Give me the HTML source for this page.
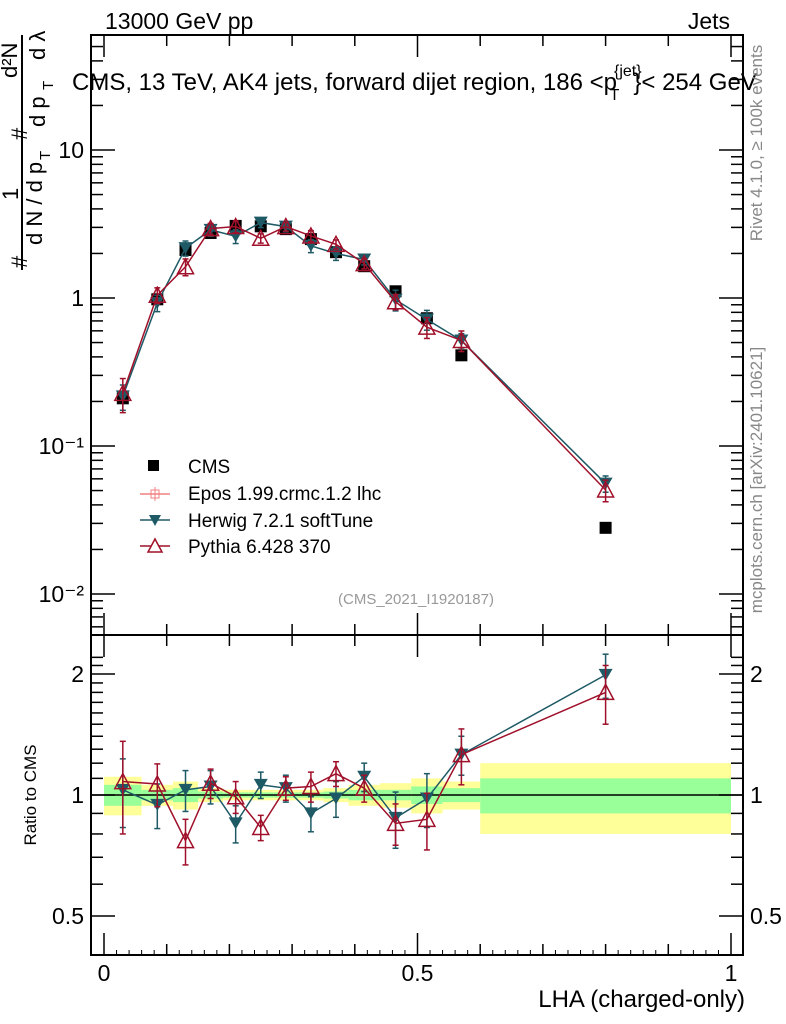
<!DOCTYPE html>
<html><head><meta charset="utf-8"><style>
html,body{margin:0;padding:0;background:#fff;}
svg{display:block;font-family:"Liberation Sans",sans-serif;}
</style></head><body>
<svg id="chart" width="786" height="1024" viewBox="0 0 786 1024" xmlns="http://www.w3.org/2000/svg">
<g id="bands"></g>
<g id="marks"></g>
<g id="axes"></g>
<rect x="91" y="35" width="652" height="600" fill="none" stroke="#000" stroke-width="2"/>
<rect x="91" y="635" width="652" height="320" fill="none" stroke="#000" stroke-width="2"/>
<text x="105" y="29" font-size="23">13000 GeV pp</text>
<text x="730" y="29" font-size="23" text-anchor="end">Jets</text>
<text x="72" y="90" font-size="24">CMS, 13 TeV, AK4 jets, forward dijet region, 186 &lt;p<tspan font-size="16" dy="-14" dx="-3">{jet}</tspan><tspan font-size="16" dy="24" dx="-32">T</tspan><tspan dy="-10" dx="14">}&lt; 254 GeV</tspan></text>
<g transform="translate(0,270) rotate(-90)" font-size="22">
<text x="2" y="27">#</text>
<text x="70" y="18">1</text>
<line x1="0" y1="22" x2="235" y2="22" stroke="#000" stroke-width="2"/>
<text x="25" y="42">d N / d p</text><text x="110" y="50" font-size="15">T</text>
<text x="130" y="27">#</text>
<text x="192" y="17">d²N</text>
<text x="143" y="45">d p</text><text x="180" y="53" font-size="15">T</text><text x="210" y="45">d λ</text>
</g>
<text transform="translate(36,795) rotate(-90)" font-size="17" text-anchor="middle">Ratio to CMS</text>
<text transform="translate(762,143) rotate(-90)" font-size="17" fill="#888" text-anchor="middle">Rivet 4.1.0, ≥ 100k events</text>
<text transform="translate(762,480) rotate(-90)" font-size="17" fill="#888" text-anchor="middle">mcplots.cern.ch [arXiv:2401.10621]</text>
<text x="416" y="604" font-size="15" fill="#999" text-anchor="middle">(CMS_2021_I1920187)</text>
<text x="745" y="1007" font-size="24" text-anchor="end">LHA (charged-only)</text>
<g id="legend" font-size="19">
<rect x="148" y="460" width="11" height="11" fill="#000"/>
<text x="188" y="473">CMS</text>
<line x1="140" y1="494" x2="170" y2="494" stroke="#f08080" stroke-width="1.5"/><line x1="155" y1="487" x2="155" y2="501" stroke="#f08080"/><rect x="151" y="490" width="8" height="8" fill="none" stroke="#f08080"/>
<text x="188" y="500">Epos 1.99.crmc.1.2 lhc</text>
<line x1="140" y1="520" x2="170" y2="520" stroke="#1e5a66" stroke-width="1.5"/><path d="M149,515 L161,515 L155,526 Z" fill="#1e5a66"/>
<text x="188" y="527">Herwig 7.2.1 softTune</text>
<line x1="140" y1="546" x2="170" y2="546" stroke="#a0102a" stroke-width="1.5"/><path d="M148,552 L162,552 L155,539 Z" fill="#fff" stroke="#a0102a" stroke-width="1.5"/>
<text x="188" y="553">Pythia 6.428 370</text>
</g>
</svg>
<script>
const lhaCenters=[0.03,0.085,0.13,0.17,0.21,0.25,0.29,0.33,0.37,0.415,0.465,0.515,0.57,0.8];
const binEdges=[0,0.06,0.11,0.15,0.19,0.23,0.27,0.31,0.35,0.39,0.44,0.49,0.54,0.60,1.0];
const cmsValues=[0.21,0.98,2.11,2.75,3.07,3.05,2.92,2.5,2.04,1.64,1.11,0.73,0.41,0.028];
const totalUnc=[0.11,0.06,0.08,0.04,0.03,0.03,0.03,0.03,0.04,0.06,0.07,0.1,0.08,0.2];
const statUnc=[0.06,0.03,0.04,0.02,0.015,0.015,0.015,0.015,0.02,0.03,0.03,0.05,0.04,0.1];
const herwigRatio=[1.03,0.945,1.03,1.05,0.85,1.06,1.04,0.90,0.98,1.11,0.877,0.98,1.26,1.99];
const herwigErr=[0.2,0.12,0.12,0.1,0.09,0.08,0.08,0.09,0.1,0.09,0.14,0.15,0.14,0.25];
const pythiaRatio=[1.08,1.065,0.77,1.07,0.99,0.83,1.04,1.05,1.13,1.04,0.85,0.87,1.26,1.80];
const pythiaErr=[0.28,0.13,0.1,0.09,0.09,0.06,0.07,0.09,0.08,0.08,0.1,0.14,0.2,0.3];
const yTicksMain=[0.01,0.1,1,10];
const yTickLabels=["10\u207B\u00B2","10\u207B\u00B9","1","10"];
const rTicks=[0.5,1,2];
const rTickLabels=["0.5","1","2"];
const xTicks=[0,0.5,1];
const xTickLabels=["0","0.5","1"];

const NS="http://www.w3.org/2000/svg";
const X=v=>104+627*v;
const Y=v=>298-148*Math.log10(v);
const R=v=>795-402*Math.log10(v);
function mk(p,tag,at){const e=document.createElementNS(NS,tag);for(const k in at)e.setAttribute(k,at[k]);p.appendChild(e);return e;}
const bands=document.getElementById('bands'),marks=document.getElementById('marks'),axes=document.getElementById('axes');

for(let i=0;i<cmsValues.length;i++){
  const x0=X(binEdges[i]),x1=X(binEdges[i+1]);
  let r=mk(bands,'rect',{x:x0,y:R(1+totalUnc[i]),width:x1-x0,height:R(1-totalUnc[i])-R(1+totalUnc[i]),fill:'#ffff99'});
  
  
  let g=mk(bands,'rect',{x:x0,y:R(1+statUnc[i]),width:x1-x0,height:R(1-statUnc[i])-R(1+statUnc[i]),fill:'#99ff99'});
  
  
}
let ref=mk(bands,'line',{x1:91,x2:743,y1:R(1),y2:R(1),stroke:'#000','stroke-width':1.5});



function series(ratios,errs,color,kind,name){
  const mainPts=ratios.map((r,i)=>[X(lhaCenters[i]),Y(cmsValues[i]*r)]);
  const ratPts=ratios.map((r,i)=>[X(lhaCenters[i]),R(r)]);
  [[mainPts,true],[ratPts,false]].forEach(([pts,isMain])=>{
    const pl=mk(marks,'polyline',{points:pts.map(p=>p.join(',')).join(' '),fill:'none',stroke:color,'stroke-width':1.5});
    
    
    ratios.forEach((r,i)=>{
      const x=pts[i][0];
      const yt=isMain?Y(cmsValues[i]*(r+errs[i])):R(r+errs[i]);
      const yb=isMain?Y(cmsValues[i]*Math.max(r-errs[i],0.05)):R(Math.max(r-errs[i],0.05));
      mk(marks,'line',{x1:x,x2:x,y1:yt,y2:yb,stroke:color,'stroke-width':1.5});
      mk(marks,'line',{x1:x-3,x2:x+3,y1:yt,y2:yt,stroke:color,'stroke-width':1.5});
      mk(marks,'line',{x1:x-3,x2:x+3,y1:yb,y2:yb,stroke:color,'stroke-width':1.5});
      const y=pts[i][1];
      let m;
      if(kind==='down') m=mk(marks,'path',{d:`M${x-7},${y-6} L${x+7},${y-6} L${x},${y+6} Z`,fill:color});
      else m=mk(marks,'path',{d:`M${x-8},${y+7} L${x+8},${y+7} L${x},${y-8} Z`,fill:'none',stroke:color,'stroke-width':1.5});
      
      
    });
  });
}
cmsValues.forEach((v,i)=>{
  const s=mk(marks,'rect',{x:X(lhaCenters[i])-6,y:Y(v)-6,width:12,height:12,fill:'#000'});
  
  
});
series(herwigRatio,herwigErr,'#1e5a66','down','herwig');
series(pythiaRatio,pythiaErr,'#a0102a','up','pythia');

for(let d=-3;d<=1;d++){for(let k=1;k<10;k++){const v=k*Math.pow(10,d);const y=Y(v);if(y<36||y>634)continue;const L=k===1?24:12;
  mk(axes,'line',{x1:91,x2:91+L,y1:y,y2:y,stroke:'#000','stroke-width':1.5});
  mk(axes,'line',{x1:743-L,x2:743,y1:y,y2:y,stroke:'#000','stroke-width':1.5});}}
yTicksMain.forEach((v,i)=>{const t=mk(axes,'text',{x:84,y:Y(v)+8,'font-size':23,'text-anchor':'end'});t.textContent=yTickLabels[i];
  
  });
for(let v=0.5;v<=2.3;v+=0.1){const y=R(v);if(y<636||y>954)continue;const major=rTicks.some(t=>Math.abs(t-v)<1e-6);const L=major?24:12;
  mk(axes,'line',{x1:91,x2:91+L,y1:y,y2:y,stroke:'#000','stroke-width':1.5});
  mk(axes,'line',{x1:743-L,x2:743,y1:y,y2:y,stroke:'#000','stroke-width':1.5});}
rTicks.forEach((v,i)=>{
  const t=mk(axes,'text',{x:84,y:R(v)+8,'font-size':23,'text-anchor':'end'});t.textContent=rTickLabels[i];
  
  
  const t2=mk(axes,'text',{x:750,y:R(v)+8,'font-size':23});t2.textContent=rTickLabels[i];
  
  });
for(let v=0;v<=1.0001;v+=0.1){const x=X(v);const major=xTicks.some(t=>Math.abs(t-v)<1e-6);const L=major?22:11;
  mk(axes,'line',{x1:x,x2:x,y1:955,y2:955-L,stroke:'#000','stroke-width':1.5});
  mk(axes,'line',{x1:x,x2:x,y1:635,y2:635-L,stroke:'#000','stroke-width':1.5});
  mk(axes,'line',{x1:x,x2:x,y1:635,y2:635+L,stroke:'#000','stroke-width':1.5});
  mk(axes,'line',{x1:x,x2:x,y1:35,y2:35+L,stroke:'#000','stroke-width':1.5});}
for(let v=0.02;v<1;v+=0.02){const x=X(v);mk(axes,'line',{x1:x,x2:x,y1:955,y2:950,stroke:'#000'});}
xTicks.forEach((v,i)=>{const t=mk(axes,'text',{x:X(v),y:981,'font-size':23,'text-anchor':'middle'});t.textContent=xTickLabels[i];
  
  });
</script>
</body></html>
